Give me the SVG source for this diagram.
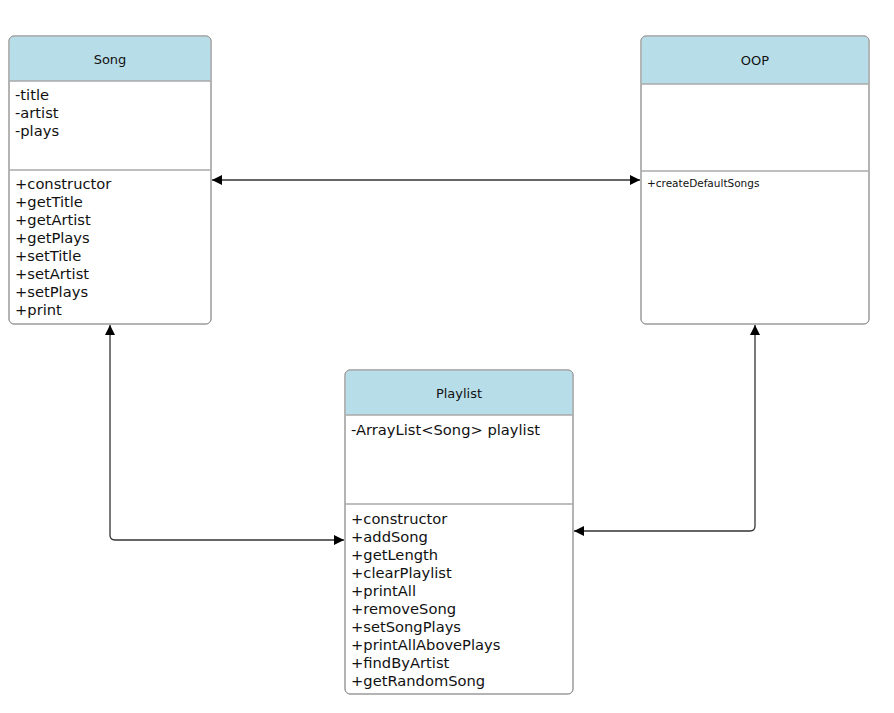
<svg xmlns="http://www.w3.org/2000/svg" width="894" height="713" viewBox="0 0 894 713">
<defs>
<marker id="arr" viewBox="0 0 10 10" refX="10" refY="5" markerWidth="10" markerHeight="10" markerUnits="userSpaceOnUse" orient="auto-start-reverse">
<path d="M0,0 L10,5 L0,10 z" fill="#000"/>
</marker>
</defs>
<style>
.box{fill:#fff;stroke:#9a9a9a;stroke-width:1}
.hdr{fill:#b7dde8}
.div{stroke:#a8a8a8;stroke-width:1.5}
.title{font-family:"DejaVu Sans",Verdana,sans-serif;font-size:13px;fill:#111;text-anchor:middle}
.mem{font-family:"DejaVu Sans",Verdana,sans-serif;font-size:14.7px;fill:#111}
.small{font-family:"DejaVu Sans",Verdana,sans-serif;font-size:10.5px;fill:#111}
.edge{fill:none;stroke:#333;stroke-width:1.3}
</style>
<rect width="894" height="713" fill="#fff"/>
<g id="connectors">
<path class="edge" d="M212,180 H640" marker-start="url(#arr)" marker-end="url(#arr)"/>
<path class="edge" d="M110,325 V535 Q110,540 115,540 H344" marker-start="url(#arr)" marker-end="url(#arr)"/>
<path class="edge" d="M755,325 V526 Q755,531 750,531 H574" marker-start="url(#arr)" marker-end="url(#arr)"/>
</g>
<g id="Song">
<rect class="box" x="9" y="36" width="202" height="288" rx="5"/>
<path class="hdr" d="M14.5,36.5 H205.5 Q210.5,36.5 210.5,41.5 V81 H9.5 V41.5 Q9.5,36.5 14.5,36.5 Z"/>
<rect class="box" x="9" y="36" width="202" height="288" rx="5" style="fill:none"/>
<line class="div" x1="9.5" y1="81" x2="210.5" y2="81"/>
<line class="div" x1="9.5" y1="170" x2="210.5" y2="170"/>
<text class="title" x="110" y="64">Song</text>
<text class="mem" x="15" y="100">-title</text>
<text class="mem" x="15" y="118">-artist</text>
<text class="mem" x="15" y="136">-plays</text>
<text class="mem" x="15" y="189">+constructor</text>
<text class="mem" x="15" y="207">+getTitle</text>
<text class="mem" x="15" y="225">+getArtist</text>
<text class="mem" x="15" y="243">+getPlays</text>
<text class="mem" x="15" y="261">+setTitle</text>
<text class="mem" x="15" y="279">+setArtist</text>
<text class="mem" x="15" y="297">+setPlays</text>
<text class="mem" x="15" y="315">+print</text>
</g>
<g id="OOP">
<rect class="box" x="641" y="36" width="228" height="288" rx="5"/>
<path class="hdr" d="M646.5,36.5 H863.5 Q868.5,36.5 868.5,41.5 V84 H641.5 V41.5 Q641.5,36.5 646.5,36.5 Z"/>
<rect class="box" x="641" y="36" width="228" height="288" rx="5" style="fill:none"/>
<line class="div" x1="641.5" y1="84" x2="868.5" y2="84"/>
<line class="div" x1="641.5" y1="171" x2="868.5" y2="171"/>
<text class="title" x="755" y="65">OOP</text>
<text class="small" x="647" y="187">+createDefaultSongs</text>
</g>
<g id="Playlist">
<rect class="box" x="345" y="370" width="228" height="324" rx="5"/>
<path class="hdr" d="M350.5,370.5 H567.5 Q572.5,370.5 572.5,375.5 V415 H345.5 V375.5 Q345.5,370.5 350.5,370.5 Z"/>
<rect class="box" x="345" y="370" width="228" height="324" rx="5" style="fill:none"/>
<line class="div" x1="345.5" y1="415" x2="572.5" y2="415"/>
<line class="div" x1="345.5" y1="504" x2="572.5" y2="504"/>
<text class="title" x="459" y="398">Playlist</text>
<text class="mem" x="351" y="435">-ArrayList&lt;Song&gt; playlist</text>
<text class="mem" x="351" y="524">+constructor</text>
<text class="mem" x="351" y="542">+addSong</text>
<text class="mem" x="351" y="560">+getLength</text>
<text class="mem" x="351" y="578">+clearPlaylist</text>
<text class="mem" x="351" y="596">+printAll</text>
<text class="mem" x="351" y="614">+removeSong</text>
<text class="mem" x="351" y="632">+setSongPlays</text>
<text class="mem" x="351" y="650">+printAllAbovePlays</text>
<text class="mem" x="351" y="668">+findByArtist</text>
<text class="mem" x="351" y="686">+getRandomSong</text>
</g>
</svg>
